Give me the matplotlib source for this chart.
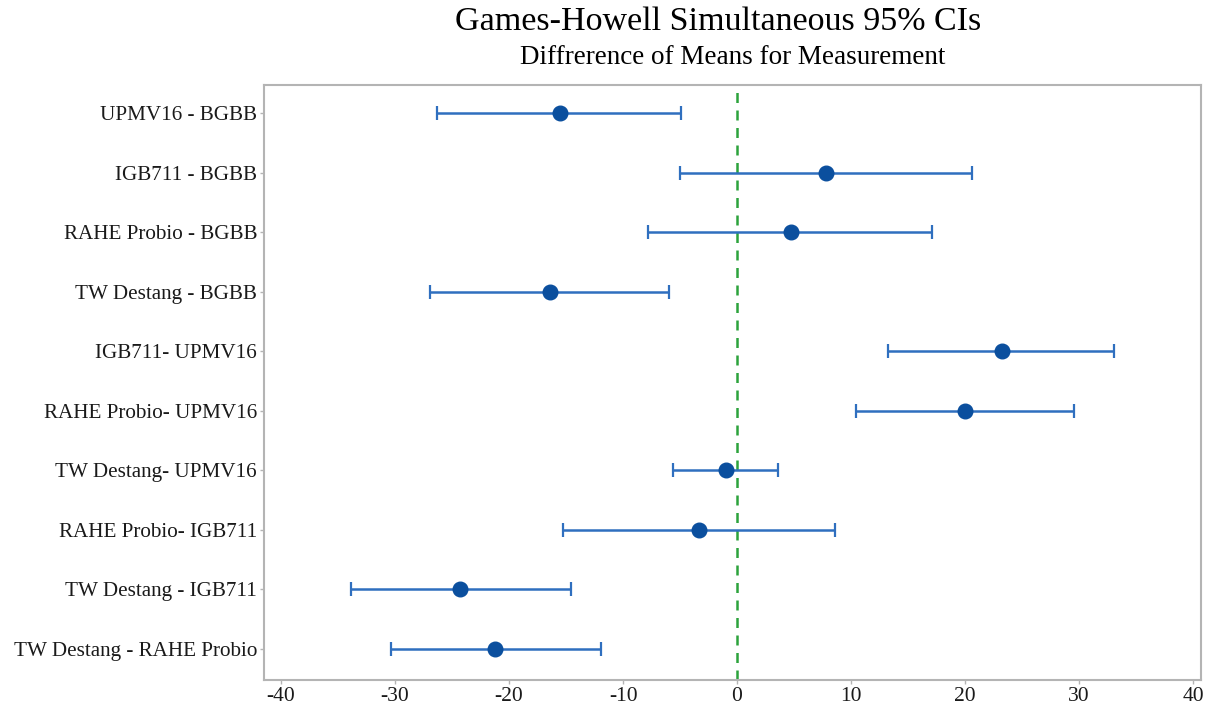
import matplotlib.pyplot as plt
import numpy as np

labels = ['UPMV16 - BGBB', 'IGB711 - BGBB', 'RAHE Probio - BGBB', 'TW Destang - BGBB',
          'IGB711- UPMV16', 'RAHE Probio- UPMV16', 'TW Destang- UPMV16',
          'RAHE Probio- IGB711', 'TW Destang - IGB711', 'TW Destang - RAHE Probio']
diff = [-15.5, 7.8, 4.7, -16.4, 23.2, 20.0, -1.0, -3.3, -24.3, -21.2]
lower = [-26.3, -5.0, -7.8, -26.9, 13.2, 10.4, -5.6, -15.3, -33.9, -30.4]
upper = [-4.9, 20.6, 17.1, -6.0, 33.1, 29.6, 3.6, 8.6, -14.6, -11.9]
xticks = [-40, -30, -20, -10, 0, 10, 20, 30, 40]


def main():
    plt.rcParams['font.family'] = ['Liberation Serif', 'DejaVu Serif']

    d = np.array(diff)
    lo = d - np.array(lower)
    hi = np.array(upper) - d
    y = np.arange(len(labels))

    fig = plt.figure(figsize=(12.11, 7.07), dpi=100)
    ax = fig.add_axes([264 / 1211, 1 - 680 / 707, 937 / 1211, 595 / 707])

    ax.axvline(0, color='#2ca33c', linestyle=(0, (4, 3)), linewidth=1.8, zorder=1)
    ax.errorbar(d, y, xerr=[lo, hi], fmt='none', ecolor='#2f6fbf',
                elinewidth=1.8, capsize=5, capthick=1.6, zorder=2)
    ax.plot(d, y, 'o', color='#0b4f9e', markersize=10.5, zorder=3)

    ax.set_yticks(y)
    ax.set_yticklabels(labels, fontsize=15.2)
    ax.set_ylim(9.52, -0.47)
    ax.set_xticks(xticks)
    ax.set_xticklabels([str(t) for t in xticks], fontsize=15.5)
    ax.set_xlim(-41.5, 40.7)

    for s in ax.spines.values():
        s.set_color('#b4b4b4')
        s.set_linewidth(1.5)
    ax.tick_params(colors='#b4b4b4', labelcolor='#1a1a1a', length=3, width=1, pad=2)

    fig.text(718 / 1211, 1 - 22 / 707, 'Games-Howell Simultaneous 95% CIs',
             ha='center', va='center', fontsize=24.5)
    fig.text(733 / 1211, 1 - 58 / 707, 'Diffrerence of Means for Measurement',
             ha='center', va='center', fontsize=19.5)

    plt.savefig('out.png')


if __name__ == "__main__":
    main()
